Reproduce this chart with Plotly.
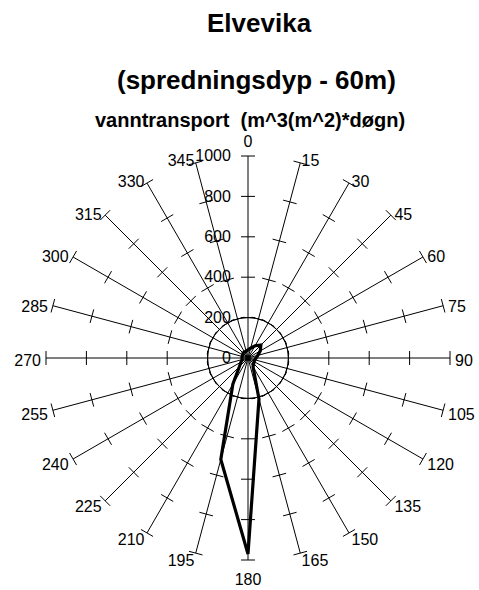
import plotly.graph_objects as go

# Directions (degrees, clockwise from north) and water transport values
directions = [0, 15, 30, 45, 60, 75, 90, 105, 120, 135, 150, 165,
              180, 195, 210, 225, 240, 255, 270, 285, 300, 315, 330, 345]
transport = [40, 50, 70, 90, 70, 50, 40, 35, 35, 40, 50, 210,
             970, 520, 150, 60, 40, 30, 30, 30, 30, 35, 35, 35]
direction_labels = [str(d) for d in directions]
radial_ticks = [0, 200, 400, 600, 800, 1000]
radial_tick_labels = [str(v) for v in radial_ticks]
circle_values = [200]

W, H = 479, 590
cx, cy, R = 248, 358, 202
rmax = radial_ticks[-1]
EXT = 1.1      # label subplot is 10% larger
LABEL_DY = 4   # small downward nudge of the direction labels


def domain(rad, dy=0):
    return dict(x=[(cx - rad) / W, (cx + rad) / W],
                y=[1 - (cy + dy + rad) / H, 1 - (cy + dy - rad) / H])


fig = go.Figure()

# helper trace to create the grid-circle subplot
fig.add_trace(go.Scatterpolar(r=[0], theta=[0], subplot="polar2", mode="markers",
                              marker=dict(opacity=0), hoverinfo="skip", showlegend=False))

# tick marks along every spoke
tick_r, tick_t = [], []
for d in directions:
    for v in radial_ticks[1:]:
        tick_r.append(v)
        tick_t.append(d)
fig.add_trace(go.Scatterpolar(
    r=tick_r, theta=tick_t, mode="markers", subplot="polar",
    marker=dict(symbol="line-ew", size=10, angle=tick_t,
                line=dict(color="black", width=1), color="black"),
    hoverinfo="skip", showlegend=False))

# data polygon
fig.add_trace(go.Scatterpolar(
    r=transport + transport[:1], theta=directions + directions[:1],
    mode="lines", subplot="polar",
    line=dict(color="black", width=3.2), showlegend=False))

# direction labels at the spoke ends (in a slightly larger, invisible polar subplot)
lab_pos, lab_r = [], []
for d in directions:
    if d == 0:
        lab_pos.append("top center"); lab_r.append(rmax * 1.045)
    elif d == 180:
        lab_pos.append("bottom center"); lab_r.append(rmax * 1.045)
    elif d < 180:
        lab_pos.append("middle right"); lab_r.append(rmax * 1.025)
    else:
        lab_pos.append("middle left"); lab_r.append(rmax * 1.025)
fig.add_trace(go.Scatterpolar(
    r=lab_r, theta=directions, mode="text", text=direction_labels,
    textposition=lab_pos, textfont=dict(size=16, color="black"),
    cliponaxis=False, subplot="polar3", hoverinfo="skip", showlegend=False))

common_ang = dict(rotation=90, direction="clockwise")

fig.update_layout(
    width=W, height=H,
    margin=dict(l=0, r=0, t=0, b=0),
    paper_bgcolor="white",
    showlegend=False,
    font=dict(family="Liberation Sans, Arial, sans-serif", color="black"),
    polar2=dict(
        domain=domain(R),
        bgcolor="rgba(0,0,0,0)",
        radialaxis=dict(range=[0, rmax], tickvals=circle_values, showticklabels=False,
                        showline=False, ticks="", showgrid=True, gridcolor="black", gridwidth=1),
        angularaxis=dict(visible=False, **common_ang),
    ),
    polar=dict(
        domain=domain(R),
        bgcolor="rgba(0,0,0,0)",
        radialaxis=dict(range=[0, rmax], tickvals=radial_ticks, ticktext=radial_tick_labels,
                        showline=False, ticks="outside", ticklen=11,
                        tickcolor="rgba(0,0,0,0)", showgrid=False, angle=90, tickangle=90,
                        side="counterclockwise", tickfont=dict(size=16, color="black")),
        angularaxis=dict(tickvals=directions, showticklabels=False, showline=False,
                         ticks="", showgrid=True, gridcolor="black", gridwidth=1,
                         **common_ang),
    ),
    polar3=dict(
        domain=domain(R * EXT, LABEL_DY),
        bgcolor="rgba(0,0,0,0)",
        radialaxis=dict(range=[0, rmax * EXT], visible=False),
        angularaxis=dict(visible=False, **common_ang),
    ),
    annotations=[
        dict(text="<b>Elvevika</b>", x=259.5 / W, y=1 - 23 / H, xref="paper", yref="paper",
             showarrow=False, font=dict(size=26), xanchor="center", yanchor="middle"),
        dict(text="<b>(spredningsdyp - 60m)</b>", x=256.5 / W, y=1 - 80 / H, xref="paper",
             yref="paper", showarrow=False, font=dict(size=26), xanchor="center", yanchor="middle"),
        dict(text="<b>vanntransport  (m^3(m^2)*døgn)</b>", x=249.5 / W, y=1 - 120 / H,
             xref="paper", yref="paper", showarrow=False, font=dict(size=20),
             xanchor="center", yanchor="middle"),
    ],
)

fig.write_html("out.html", config={"displayModeBar": False},
               post_script="document.body.style.margin='0';document.body.style.overflow='hidden';")
